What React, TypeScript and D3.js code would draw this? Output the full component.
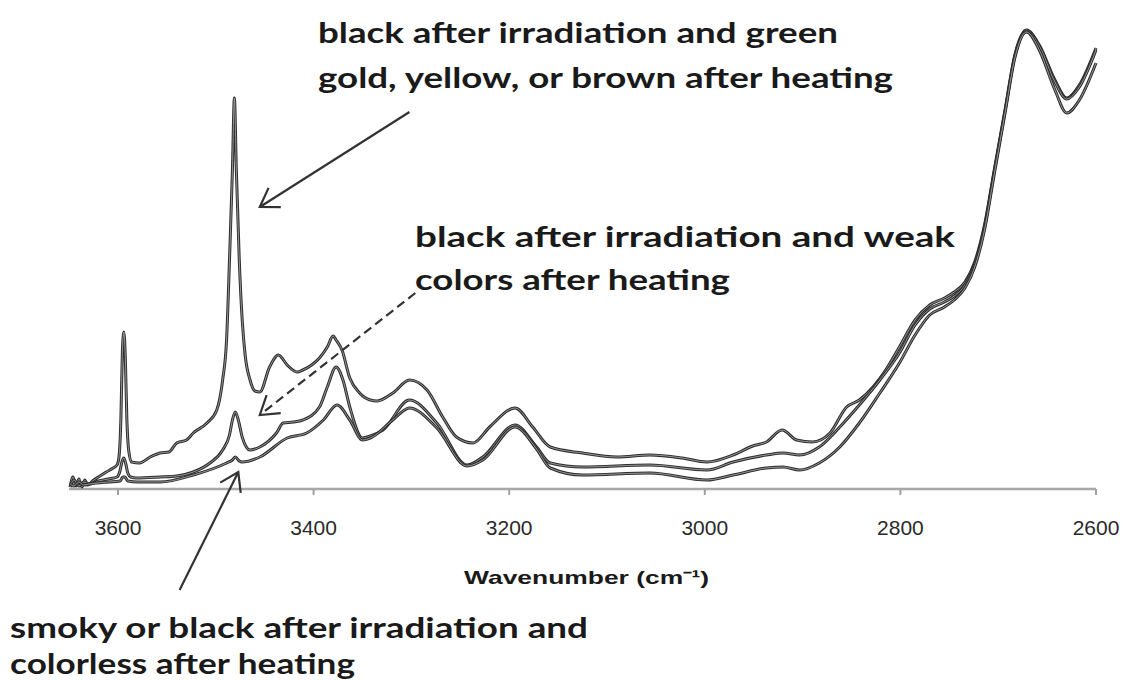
import React from "react";
import * as d3 from "d3";

// ---------- data ----------
const xTicks = [3600, 3400, 3200, 3000, 2800, 2600];
const xTitle = "Wavenumber (cm⁻¹)";

// [wavenumber (cm-1), absorbance (arb.)]
const greenGold: [number, number][] = [
  [3649, 0.02], [3646, 0.12], [3643, 0.03], [3640, 0.1], [3637, 0.02], [3634, 0.09], [3631, 0.04],
  [3626, 0.08], [3620, 0.12], [3612, 0.17], [3605, 0.21], [3601, 0.24], [3599, 0.32], [3597, 0.72],
  [3595.5, 1.38], [3594, 1.57], [3592.5, 1.3], [3591, 0.72], [3589, 0.38], [3586, 0.27], [3578, 0.26],
  [3567, 0.32], [3557, 0.36],
  [3548, 0.37], [3540, 0.46], [3530, 0.49], [3523, 0.56], [3509, 0.66], [3499, 0.79], [3493, 1.09],
  [3489, 1.49], [3486, 2.29], [3483, 3.19], [3481, 3.91], [3479, 3.19], [3476, 2.29], [3473, 1.69],
  [3470, 1.34], [3465, 1.09], [3460, 0.98], [3455, 0.97], [3445, 1.22], [3436, 1.34], [3427, 1.24],
  [3417, 1.17], [3411, 1.19], [3402, 1.24], [3394, 1.31], [3386, 1.42], [3380, 1.53], [3377, 1.49],
  [3371, 1.39], [3363, 1.11], [3353, 0.96], [3342, 0.89], [3335, 0.88], [3319, 0.96], [3302, 1.09],
  [3284, 0.99], [3268, 0.72], [3254, 0.52], [3237, 0.46], [3220, 0.62], [3194, 0.81], [3176, 0.62],
  [3158, 0.42], [3125, 0.36], [3090, 0.32], [3056, 0.34], [3023, 0.31], [2998, 0.27], [2971, 0.34],
  [2951, 0.43], [2937, 0.47], [2921, 0.59], [2906, 0.49], [2890, 0.47], [2872, 0.56], [2855, 0.82],
  [2842, 0.89], [2828, 1.02], [2815, 1.19], [2801, 1.42], [2785, 1.69], [2770, 1.84], [2755, 1.91],
  [2745, 1.97], [2734, 2.07], [2724, 2.27], [2714, 2.64], [2704, 3.19], [2693, 3.79], [2683, 4.34],
  [2671, 4.59], [2658, 4.44], [2642, 4.09], [2630, 3.91], [2617, 4.04], [2600, 4.41],
];

const weakColors: [number, number][] = [
  [3649, 0.02], [3645, 0.09], [3640, 0.03], [3635, 0.07], [3629, 0.05], [3620, 0.08], [3610, 0.1],
  [3601, 0.12], [3598, 0.18], [3596, 0.27], [3594, 0.31], [3592, 0.25], [3590, 0.16], [3587, 0.12],
  [3581, 0.11], [3557, 0.12],
  [3540, 0.13], [3523, 0.17], [3506, 0.26], [3493, 0.39], [3486, 0.54], [3483, 0.69], [3480, 0.77],
  [3477, 0.69], [3473, 0.52], [3465, 0.39], [3455, 0.42], [3438, 0.56], [3431, 0.66], [3421, 0.67],
  [3411, 0.69], [3394, 0.82], [3386, 1.02], [3377, 1.22], [3370, 1.09], [3363, 0.82], [3350, 0.51],
  [3342, 0.53], [3329, 0.59], [3302, 0.89], [3274, 0.66], [3243, 0.24], [3227, 0.32], [3194, 0.64],
  [3172, 0.42], [3158, 0.26], [3125, 0.22], [3056, 0.24], [2998, 0.19], [2971, 0.27], [2937, 0.34],
  [2920, 0.36], [2903, 0.34], [2883, 0.42], [2862, 0.62], [2842, 0.84], [2821, 1.09], [2801, 1.36],
  [2785, 1.64], [2770, 1.8], [2755, 1.87], [2745, 1.93], [2734, 2.04], [2724, 2.25], [2714, 2.62],
  [2704, 3.18], [2693, 3.78], [2683, 4.33], [2671, 4.58], [2658, 4.43], [2642, 4.07], [2630, 3.9],
  [2617, 4.02], [2600, 4.39],
];

const colorless: [number, number][] = [
  [3649, 0.05], [3645, 0.03], [3640, 0.07], [3635, 0.04], [3629, 0.05], [3610, 0.07], [3598, 0.08],
  [3595, 0.12], [3593, 0.12], [3590, 0.08], [3580, 0.07], [3557, 0.07], [3523, 0.14], [3489, 0.26],
  [3483, 0.29],
  [3480, 0.32], [3476, 0.28], [3473, 0.27], [3455, 0.32], [3427, 0.51], [3407, 0.56], [3390, 0.69],
  [3376, 0.84], [3363, 0.69], [3350, 0.49], [3342, 0.51], [3319, 0.69], [3302, 0.81], [3274, 0.61],
  [3243, 0.23], [3227, 0.29], [3194, 0.62], [3172, 0.4], [3158, 0.21], [3125, 0.14], [3056, 0.16],
  [2998, 0.09], [2971, 0.14], [2937, 0.21], [2920, 0.22], [2903, 0.19], [2883, 0.26], [2862, 0.42],
  [2842, 0.66], [2821, 0.96], [2801, 1.26], [2785, 1.54], [2770, 1.74], [2755, 1.82], [2745, 1.89],
  [2734, 2.01], [2724, 2.22], [2714, 2.59], [2704, 3.15], [2693, 3.76], [2683, 4.31], [2671, 4.57],
  [2658, 4.39], [2642, 3.99], [2630, 3.76], [2617, 3.89], [2600, 4.26],
];

const seriesList = [greenGold, weakColors, colorless];

// annotation labels with arrow endpoints in data coordinates
const labelGreen = ["black after irradiation and green", "gold, yellow, or brown after heating"];
const labelWeak = ["black after irradiation and weak", "colors after heating"];
const labelColorless = ["smoky or black after irradiation and", "colorless after heating"];

const arrowGreen = { from: [3302, 3.77], to: [3455, 2.82], dashed: false };
const arrowWeak = { from: [3296, 1.96], to: [3455, 0.74], dashed: true };
const arrowColorless = { from: [3537, -1.01], to: [3477, 0.17], dashed: false };

// ---------- layout ----------
const W = 1125;
const H = 680;

export default function App() {
  const x = d3.scaleLinear().domain([3650, 2600]).range([69.1, 1096]);
  const y = d3.scaleLinear().domain([0, 4.6]).range([489, 29]);
  const line = d3
    .line<[number, number]>()
    .x((d) => x(d[0]))
    .y((d) => y(d[1]))
    .curve(d3.curveMonotoneX);

  const sorted = seriesList.map((s) => [...s].sort((a, b) => b[0] - a[0]));

  const arrow = (a: { from: number[]; to: number[]; dashed: boolean }, key: string) => {
    const x1 = x(a.from[0]), y1 = y(a.from[1]);
    const x2 = x(a.to[0]), y2 = y(a.to[1]);
    const ang = Math.atan2(y1 - y2, x1 - x2);
    const L = 21, th = (33 * Math.PI) / 180;
    const p1 = [x2 + L * Math.cos(ang + th), y2 + L * Math.sin(ang + th)];
    const p2 = [x2 + L * Math.cos(ang - th), y2 + L * Math.sin(ang - th)];
    return (
      <g key={key} stroke="#333" strokeWidth={2.2} fill="none">
        <line x1={x1} y1={y1} x2={x2} y2={y2} strokeDasharray={a.dashed ? "9 5" : undefined} />
        <polyline points={`${p1[0]},${p1[1]} ${x2},${y2} ${p2[0]},${p2[1]}`} strokeLinejoin="miter" />
      </g>
    );
  };

  const labelFont = "Lato, 'Open Sans', 'Liberation Sans', sans-serif";
  const textBlock = (
    lines: string[],
    x0: number,
    y0: number,
    gap: number,
    widths: number[],
    key: string
  ) => (
    <g key={key} fontFamily={labelFont} fontWeight={700} fontSize={29} fill="#1a1a1a">
      {lines.map((t, i) => (
        <text
          key={i}
          x={x0}
          y={y0 + i * gap}
          textLength={widths[i]}
          lengthAdjust="spacingAndGlyphs"
        >
          {t}
        </text>
      ))}
    </g>
  );

  const [r0, r1] = x.range();
  const axisY = y(0);

  return (
    <svg
      width={W}
      height={H}
      style={{ position: "absolute", left: 0, top: 0, background: "#fff" }}
    >
      <rect width={W} height={H} fill="#fff" />
      {/* axis */}
      <line x1={r0} x2={r1} y1={axisY} y2={axisY} stroke="#a8a8a8" strokeWidth={2.5} />
      {xTicks.map((t) => (
        <g key={t}>
          <line x1={x(t)} x2={x(t)} y1={axisY} y2={axisY + 6} stroke="#a0a0a0" strokeWidth={2} />
          <text
            x={x(t)}
            y={axisY + 46}
            textAnchor="middle"
            fontFamily="'Liberation Sans', Arial, sans-serif"
            fontSize={21}
            fill="#2a2a2a"
          >
            {t}
          </text>
        </g>
      ))}
      <text
        x={(r0 + r1) / 2 + 4}
        y={584}
        textAnchor="middle"
        fontFamily="'Liberation Sans', Arial, sans-serif"
        fontWeight={700}
        fontSize={19}
        fill="#1a1a1a"
        textLength={245}
        lengthAdjust="spacingAndGlyphs"
      >
        {xTitle}
      </text>

      {/* spectra */}
      {sorted.map((s, i) => (
        <g key={i} fill="none" strokeLinejoin="round">
          <path d={line(s) || ""} stroke="#2e2e2e" strokeWidth={3} />
          <path d={line(s) || ""} stroke="#b0b0b0" strokeWidth={0.8} />
        </g>
      ))}

      {/* annotations */}
      {arrow(arrowGreen, "a1")}
      {arrow(arrowWeak, "a2")}
      {arrow(arrowColorless, "a3")}
      {textBlock(labelGreen, 318, 43, 45, [520, 575], "t1")}
      {textBlock(labelWeak, 415, 247, 43, [540, 315], "t2")}
      {textBlock(labelColorless, 10, 638, 36, [578, 345], "t3")}
    </svg>
  );
}
